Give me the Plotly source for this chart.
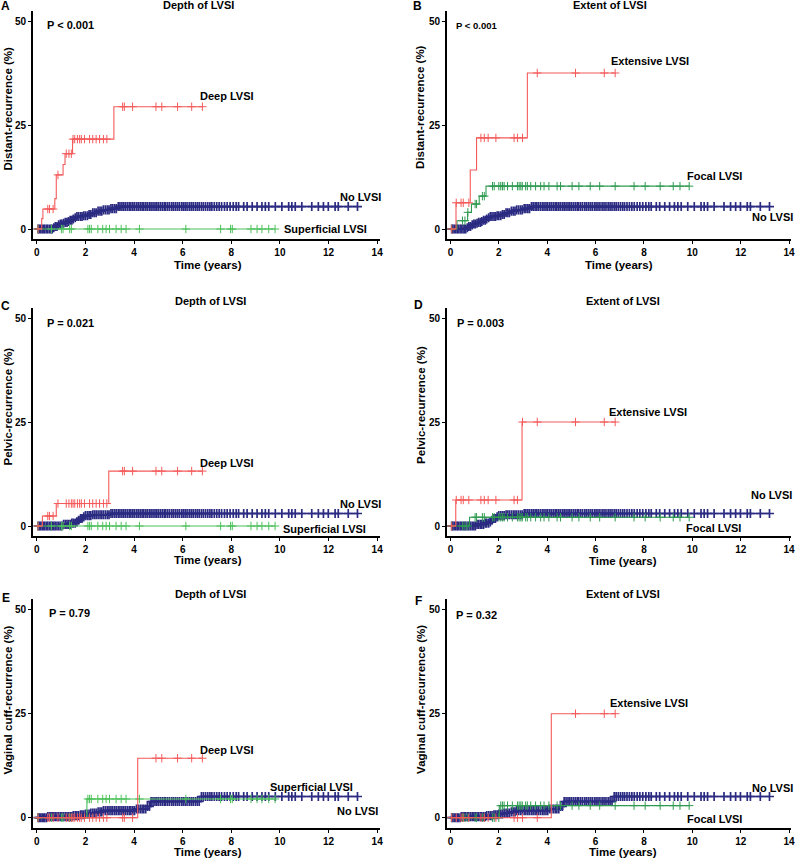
import numpy as np
import plotly.graph_objects as go

# ---------------- data ----------------
# censoring times (years) for each LVSI group
cens_no = [0.05, 0.1, 0.16, 0.22, 0.28, 0.33, 0.4, 0.45, 0.52, 0.58, 0.63, 0.7, 0.76, 0.83, 0.9,
           0.97, 1.03, 1.1, 1.17, 1.24, 1.3, 1.37, 1.44, 1.5, 1.58, 1.65, 1.72, 1.8, 1.86, 1.93,
           2.0, 2.08, 2.15, 2.22, 2.3, 2.37, 2.44, 2.52, 2.6, 2.67, 2.74, 2.82, 2.9, 2.97, 3.05,
           3.12, 3.2, 3.27, 3.35, 3.42, 3.5, 3.57, 3.64, 3.72, 3.8, 3.87, 3.95, 4.02, 4.1, 4.17,
           4.25, 4.33, 4.4, 4.48, 4.55, 4.63, 4.7, 4.78, 4.86, 4.93, 5.0, 5.08, 5.16, 5.24, 5.3,
           5.38, 5.46, 5.55, 5.62, 5.7, 5.78, 5.86, 5.95, 6.02, 6.1, 6.18, 6.27, 6.35, 6.43, 6.52,
           6.6, 6.68, 6.77, 6.85, 6.94, 7.03, 7.12, 7.2, 7.3, 7.4, 7.5, 7.6, 7.72, 7.83, 7.95,
           8.08, 8.2, 8.3, 8.51, 8.65, 8.86, 9.06, 9.26, 9.4, 9.54, 9.81, 10.08, 10.36, 10.49,
           10.63, 10.9, 11.31, 11.58, 11.79, 11.99, 12.27, 12.4, 12.81, 13.19]
cens_deep = [0.05, 0.45, 0.52, 0.67, 0.87, 1.21, 1.32, 1.42, 1.49, 1.56, 1.67, 1.76, 1.83, 1.96,
             2.17, 2.3, 2.44, 2.58, 2.74, 2.88, 3.53, 3.6, 3.94, 4.9, 5.14, 5.79, 6.37, 6.81]
cens_sup = [0.05, 0.6, 1.01, 1.08, 1.35, 1.42, 2.1, 2.17, 2.24, 2.51, 2.71, 2.85, 2.99, 3.26,
            3.47, 3.67, 4.22, 6.13, 7.56, 7.97, 8.04, 8.81, 9.06, 9.26, 9.54, 9.8]
cens_ext = [0.05, 0.24, 0.44, 0.53, 0.76, 1.26, 1.40, 1.56, 1.88, 2.63, 2.77, 2.98, 3.59,
            5.17, 6.36, 6.81]
cens_focal = [0.05, 0.5, 0.6, 0.72, 1.02, 1.08, 1.32, 1.40, 1.74, 1.81, 2.0, 2.08, 2.15, 2.22,
              2.36, 2.56, 2.77, 2.84, 2.91, 2.97, 3.11, 3.18, 3.32, 3.52, 3.73, 3.87, 4.07,
              4.41, 4.55, 5.03, 5.31, 5.78, 6.17, 6.81, 7.59, 8.05, 8.67, 9.21, 9.49, 9.87]

end_no, end_deep, end_sup, end_ext, end_focal = 13.19, 6.81, 9.8, 6.81, 9.87

# event times (years) and cumulative recurrence (%) per panel
dist_no_t = [0.67, 0.75, 0.85, 0.95, 1.05, 1.15, 1.25, 1.35, 1.45, 1.55, 1.65, 1.9, 2.1, 2.3,
             2.5, 2.7, 3.0, 3.33]
dist_no_v = [0.3, 0.6, 1.0, 1.2, 1.4, 1.6, 1.8, 2.1, 2.4, 2.7, 3.0, 3.2, 3.5, 3.9, 4.3, 4.6,
             4.9, 5.4]
dist_deep_t = [0.2, 0.25, 0.74, 0.8, 1.08, 1.16, 1.47, 3.17]
dist_deep_v = [2.5, 4.8, 7.3, 13.0, 15.5, 18.1, 21.6, 29.4]
dist_sup_t, dist_sup_v = [], []
dist_ext_t = [0.23, 0.82, 1.08, 3.18]
dist_ext_v = [6.3, 14.2, 21.9, 37.5]
dist_focal_t = [0.27, 0.71, 0.87, 1.19, 1.47]
dist_focal_v = [2.0, 4.0, 6.0, 7.9, 10.3]

pelv_no_t = [1.05, 1.4, 1.6, 1.7, 1.8, 1.9, 2.0, 2.3, 3.0]
pelv_no_v = [0.4, 0.7, 1.0, 1.4, 1.8, 2.2, 2.5, 2.7, 3.0]
pelv_deep_t = [0.23, 0.80, 2.96]
pelv_deep_v = [2.4, 5.4, 13.2]
pelv_sup_t, pelv_sup_v = [], []
pelv_ext_t = [0.22, 2.96]
pelv_ext_v = [6.25, 25.0]
pelv_focal_t = [0.79]
pelv_focal_v = [2.1]

vag_no_t = [0.45, 1.5, 1.75, 2.0, 2.2, 2.45, 2.7, 4.05, 4.55, 4.68, 6.77]
vag_no_v = [0.25, 0.5, 0.7, 0.9, 1.1, 1.4, 1.7, 2.1, 2.7, 3.9, 5.1]
vag_deep_t = [4.15]
vag_deep_v = [14.3]
vag_sup_t = [2.06]
vag_sup_v = [4.5]
vag_ext_t = [4.17]
vag_ext_v = [25.0]
vag_focal_t = [2.02]
vag_focal_v = [2.9]

x_ticks = [0, 2, 4, 6, 8, 10, 12, 14]
y_ticks = [0, 25, 50]

# ---------------- styling ----------------
W, H = 800, 858
FONT = "Liberation Sans, Arial, Helvetica, sans-serif"
NAVY = "#2B2B82"
RED = "#F45A5A"
GREEN_D = "#4CC05A"
GREEN_E = "#2F9A52"


def px(x):
    return x / W


def py(y):
    return 1 - y / H


fig = go.Figure()

# panel geometry (pixel) : x-domain, x-range, y-domain
left_dom = [px(33), px(382)]
left_rng = [-0.164, 14.12]
right_dom = [px(449), px(795)]
right_rng = [-0.152, 14.08]
row_dom = [[py(239.4), py(10.6)], [py(536.4), py(307.6)], [py(828.1), py(599.3)]]
y_rng = [-2.5, 52.5]


def step_value(times, vals, t):
    i = int(np.searchsorted(np.array(times, dtype=float), t, side="right")) - 1
    return 0.0 if i < 0 else vals[i]


def add_curve(idx, times, vals, end, cens, color, lw, msize, mw):
    xa = "x" if idx == 1 else f"x{idx}"
    ya = "y" if idx == 1 else f"y{idx}"
    xs = [0.0] + list(times) + [end]
    ys = [0.0] + list(vals) + [vals[-1] if vals else 0.0]
    fig.add_trace(go.Scatter(x=xs, y=ys, mode="lines", line=dict(color=color, width=lw, shape="hv"),
                             xaxis=xa, yaxis=ya, showlegend=False, hoverinfo="skip"))
    cy = [step_value(times, vals, t) for t in cens]
    fig.add_trace(go.Scatter(x=cens, y=cy, mode="markers",
                             marker=dict(symbol="cross-thin", size=msize, line=dict(color=color, width=mw)),
                             xaxis=xa, yaxis=ya, showlegend=False, hoverinfo="skip"))


panels = [
    (1, (dist_no_t, dist_no_v), (dist_deep_t, dist_deep_v), (dist_sup_t, dist_sup_v), False),
    (2, (dist_no_t, dist_no_v), (dist_ext_t, dist_ext_v), (dist_focal_t, dist_focal_v), True),
    (3, (pelv_no_t, pelv_no_v), (pelv_deep_t, pelv_deep_v), (pelv_sup_t, pelv_sup_v), False),
    (4, (pelv_no_t, pelv_no_v), (pelv_ext_t, pelv_ext_v), (pelv_focal_t, pelv_focal_v), True),
    (5, (vag_no_t, vag_no_v), (vag_deep_t, vag_deep_v), (vag_sup_t, vag_sup_v), False),
    (6, (vag_no_t, vag_no_v), (vag_ext_t, vag_ext_v), (vag_focal_t, vag_focal_v), True),
]

for idx, no, hi, lo, extent in panels:
    add_curve(idx, no[0], no[1], end_no, cens_no, NAVY, 1.5, 6.5, 1.7)
    if extent:
        add_curve(idx, lo[0], lo[1], end_focal, cens_focal, GREEN_E, 1.1, 6, 1.0)
        add_curve(idx, hi[0], hi[1], end_ext, cens_ext, RED, 1.1, 6, 1.0)
    else:
        add_curve(idx, lo[0], lo[1], end_sup, cens_sup, GREEN_D, 1.1, 6, 1.0)
        add_curve(idx, hi[0], hi[1], end_deep, cens_deep, RED, 1.1, 6, 1.0)

axis_common = dict(showline=True, linecolor="black", linewidth=1.5, ticks="outside", ticklen=3,
                   tickwidth=1.2, tickcolor="black", showgrid=False, zeroline=False,
                   tickfont=dict(family=FONT, size=10, color="black", weight="bold"))
layout_axes = {}
for idx, _, _, _, extent in panels:
    row = (idx - 1) // 2
    xname = "xaxis" if idx == 1 else f"xaxis{idx}"
    yname = "yaxis" if idx == 1 else f"yaxis{idx}"
    xa = "x" if idx == 1 else f"x{idx}"
    ya = "y" if idx == 1 else f"y{idx}"
    layout_axes[xname] = dict(axis_common, domain=right_dom if extent else left_dom,
                              range=right_rng if extent else left_rng, tickvals=x_ticks,
                              anchor=ya)
    layout_axes[yname] = dict(axis_common, domain=row_dom[row], range=y_rng, tickvals=y_ticks,
                              anchor=xa)

fig.update_layout(width=W, height=H, margin=dict(l=0, r=0, t=0, b=0), plot_bgcolor="white",
                  paper_bgcolor="white", showlegend=False, **layout_axes)

ann = []


def paper_text(text, x, y, size, angle=0, xanchor="center"):
    ann.append(dict(text=f"<b>{text}</b>", x=px(x), y=py(y), xref="paper", yref="paper",
                    xanchor=xanchor, yanchor="middle", showarrow=False, textangle=angle,
                    font=dict(family=FONT, size=size, color="black")))


def data_text(idx, text, x, y, size=11):
    xa = "x" if idx == 1 else f"x{idx}"
    ya = "y" if idx == 1 else f"y{idx}"
    ann.append(dict(text=f"<b>{text}</b>", x=x, y=y, xref=xa, yref=ya, xanchor="left",
                    yanchor="middle", showarrow=False, font=dict(family=FONT, size=size, color="black")))


# panel letters and titles
paper_text("A", 6, 6, 12)
paper_text("B", 420, 6, 12)
paper_text("C", 6, 306, 12)
paper_text("D", 421, 305, 12)
paper_text("E", 6, 598, 12)
paper_text("F", 421, 601, 12)
paper_text("Depth of LVSI", 199, 5, 11)
paper_text("Extent of LVSI", 613, 5, 11)
paper_text("Depth of LVSI", 212, 301, 11)
paper_text("Extent of LVSI", 626, 301, 11)
paper_text("Depth of LVSI", 212, 594, 11)
paper_text("Extent of LVSI", 626, 594, 11)

# axis titles
paper_text("Distant-recurrence (%)", 8.5, 108, 11.5, angle=-90)
paper_text("Distant-recurrence (%)", 422, 107, 11.5, angle=-90)
paper_text("Pelvic-recurrence (%)", 8.5, 406, 11.5, angle=-90)
paper_text("Pelvic-recurrence (%)", 423, 405, 11.5, angle=-90)
paper_text("Vaginal cuff-recurrence (%)", 8.5, 700, 11.5, angle=-90)
paper_text("Vaginal cuff-recurrence (%)", 423, 699, 11.5, angle=-90)
paper_text("Time (years)", 209, 264.5, 11.5)
paper_text("Time (years)", 622, 264.5, 11.5)
paper_text("Time (years)", 209, 559.5, 11.5)
paper_text("Time (years)", 626, 561, 11.5)
paper_text("Time (years)", 209, 851.5, 11.5)
paper_text("Time (years)", 626, 851.5, 11.5)

# p-values and curve labels
data_text(1, "P < 0.001", 0.33, 49.0)
data_text(1, "Deep LVSI", 6.63, 32.0)
data_text(1, "No LVSI", 12.4, 7.8)
data_text(1, "Superficial LVSI", 10.08, 0.0)

data_text(2, "P < 0.001", 0.14, 48.8, size=9.5)
data_text(2, "Extensive LVSI", 6.54, 40.4)
data_text(2, "Focal LVSI", 9.71, 12.7)
data_text(2, "No LVSI", 12.37, 3.0)

data_text(3, "P = 0.021", 0.33, 48.9)
data_text(3, "Deep LVSI", 6.63, 15.2)
data_text(3, "No LVSI", 12.4, 5.4)
data_text(3, "Superficial LVSI", 10.05, -0.6)

data_text(4, "P = 0.003", 0.2, 48.7)
data_text(4, "Extensive LVSI", 6.47, 27.3)
data_text(4, "No LVSI", 12.36, 7.45)
data_text(4, "Focal LVSI", 9.65, -0.56)

data_text(5, "P = 0.79", 0.4, 49.1)
data_text(5, "Deep LVSI", 6.63, 16.3)
data_text(5, "Superficial LVSI", 9.51, 7.5)
data_text(5, "No LVSI", 12.27, 1.7)

data_text(6, "P = 0.32", 0.14, 48.8)
data_text(6, "Extensive LVSI", 6.5, 27.5)
data_text(6, "No LVSI", 12.37, 7.1)
data_text(6, "Focal LVSI", 9.71, -0.2)

fig.update_layout(annotations=ann)
fig.write_html("out.html", config={"displayModeBar": False},
               post_script="document.body.style.margin='0px';document.body.style.padding='0px';")
